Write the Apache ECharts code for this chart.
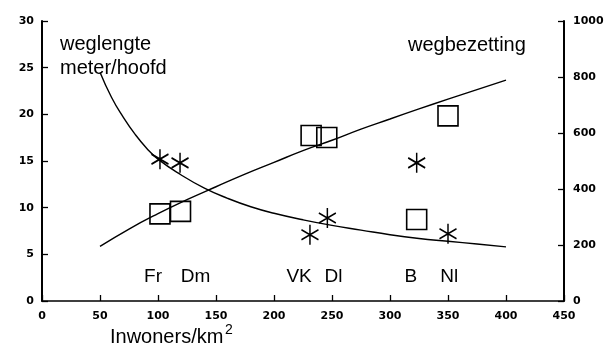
<!DOCTYPE html>
<html>
<head>
<meta charset="utf-8">
<script src="https://cdn.jsdelivr.net/npm/echarts@6/dist/echarts.min.js"></script>
<style>html,body{margin:0;padding:0;background:#fff;}#c{width:610px;height:347px;}</style>
</head>
<body>
<div id="c"></div>
<script>
// Curve: weglengte (meter/hoofd), left axis
const weglengteX = [50, 60, 70, 80, 90, 100, 120, 140, 160, 180, 200, 225, 250, 275, 300, 325, 350, 375, 400];
const weglengteY = [24.5, 21.8, 19.7, 17.9, 16.4, 15.2, 13.5, 12.1, 11.0, 10.1, 9.4, 8.7, 8.1, 7.6, 7.1, 6.7, 6.4, 6.1, 5.8];
// Curve: wegbezetting, right axis
const wegbezettingX = [50, 75, 100, 125, 150, 175, 200, 225, 250, 275, 300, 325, 350, 375, 400];
const wegbezettingY = [195, 257, 312, 362, 408, 453, 495, 537, 574, 614, 650, 686, 721, 755, 789];
// Countries
const countries = ['Fr', 'Dm', 'VK', 'Dl', 'B', 'Nl'];
const labelX = [95.7, 132.3, 221.6, 251.3, 318, 351];
const labelY = [2.6, 2.6, 2.6, 2.6, 2.6, 2.6];
// Asterisks (weglengte, left axis)
const starX = [101.7, 119, 231, 246, 323, 350];
const starY = [15.2, 14.8, 7.1, 8.9, 14.8, 7.2];
// Squares (wegbezetting, right axis)
const squareX = [101.7, 119.4, 232, 245.5, 323, 350];
const squareY = [311, 320, 591, 584, 291, 661];
// Axes
const xMin = 0, xMax = 450, xStep = 50;
const yLeftMin = 0, yLeftMax = 30, yLeftStep = 5;
const yRightMin = 0, yRightMax = 1000, yRightStep = 200;

const zip = (a, b) => a.map((v, i) => [v, b[i]]);
const tickFont = {color: '#000', fontFamily: 'DejaVu Sans', fontWeight: 'bold', fontSize: 11, formatter: v => String(v)};
const txtFont = {color: '#000', fontFamily: 'Liberation Sans', fontWeight: 'normal'};
const axisCommon = {
  splitLine: {show: false},
  axisTick: {show: true, inside: true, length: 6, lineStyle: {color: '#000', width: 1.3}},
};

const chart = echarts.init(document.getElementById('c'), null, {renderer: 'canvas'});
chart.setOption({
  animation: false,
  backgroundColor: '#fff',
  title: [
    {text: 'weglengte\nmeter/hoofd', left: 55, top: 27, textStyle: Object.assign({fontSize: 20, lineHeight: 24}, txtFont)},
    {text: 'wegbezetting', left: 403, top: 30, textStyle: Object.assign({fontSize: 20}, txtFont)},
    {text: 'Inwoners/km', left: 105, top: 322, textStyle: Object.assign({fontSize: 20}, txtFont)},
    {text: '2', left: 220, top: 318, textStyle: Object.assign({fontSize: 14}, txtFont)}
  ],
  grid: {left: 42, right: 46, top: 21, bottom: 46},
  xAxis: Object.assign({
    type: 'value', min: xMin, max: xMax, interval: xStep,
    axisLine: {show: true, onZero: false, lineStyle: {color: '#000', width: 1.5}},
    axisLabel: Object.assign({margin: 10}, tickFont)
  }, axisCommon),
  yAxis: [
    Object.assign({
      type: 'value', position: 'left', min: yLeftMin, max: yLeftMax, interval: yLeftStep,
      axisLine: {show: true, lineStyle: {color: '#000', width: 2}},
      axisLabel: Object.assign({margin: 8}, tickFont)
    }, axisCommon),
    Object.assign({
      type: 'value', position: 'right', min: yRightMin, max: yRightMax, interval: yRightStep,
      axisLine: {show: true, lineStyle: {color: '#000', width: 2}},
      axisLabel: Object.assign({margin: 9}, tickFont)
    }, axisCommon)
  ],
  series: [
    {
      type: 'line', yAxisIndex: 0, data: zip(weglengteX, weglengteY), smooth: true,
      showSymbol: false, lineStyle: {color: '#000', width: 1.4}, silent: true
    },
    {
      type: 'line', yAxisIndex: 1, data: zip(wegbezettingX, wegbezettingY), smooth: true,
      showSymbol: false, lineStyle: {color: '#000', width: 1.4}, silent: true
    },
    {
      type: 'scatter', yAxisIndex: 0, data: zip(starX, starY),
      symbol: 'path://M10,0 L10,20 M1.34,5 L18.66,15 M1.34,15 L18.66,5',
      symbolSize: [17, 20],
      itemStyle: {color: 'rgba(0,0,0,0)', borderColor: '#000', borderWidth: 1.6, opacity: 1}
    },
    {
      type: 'scatter', yAxisIndex: 1, data: zip(squareX, squareY),
      symbol: 'rect', symbolSize: 20,
      itemStyle: {color: 'rgba(0,0,0,0)', borderColor: '#000', borderWidth: 1.6, opacity: 1}
    },
    {
      type: 'scatter', yAxisIndex: 0,
      data: countries.map((c, i) => ({value: [labelX[i], labelY[i]], name: c})),
      symbolSize: 0,
      itemStyle: {opacity: 1},
      label: Object.assign({show: true, position: 'inside', formatter: p => p.name, fontSize: 19, opacity: 1}, txtFont)
    }
  ]
});
</script>
</body>
</html>
